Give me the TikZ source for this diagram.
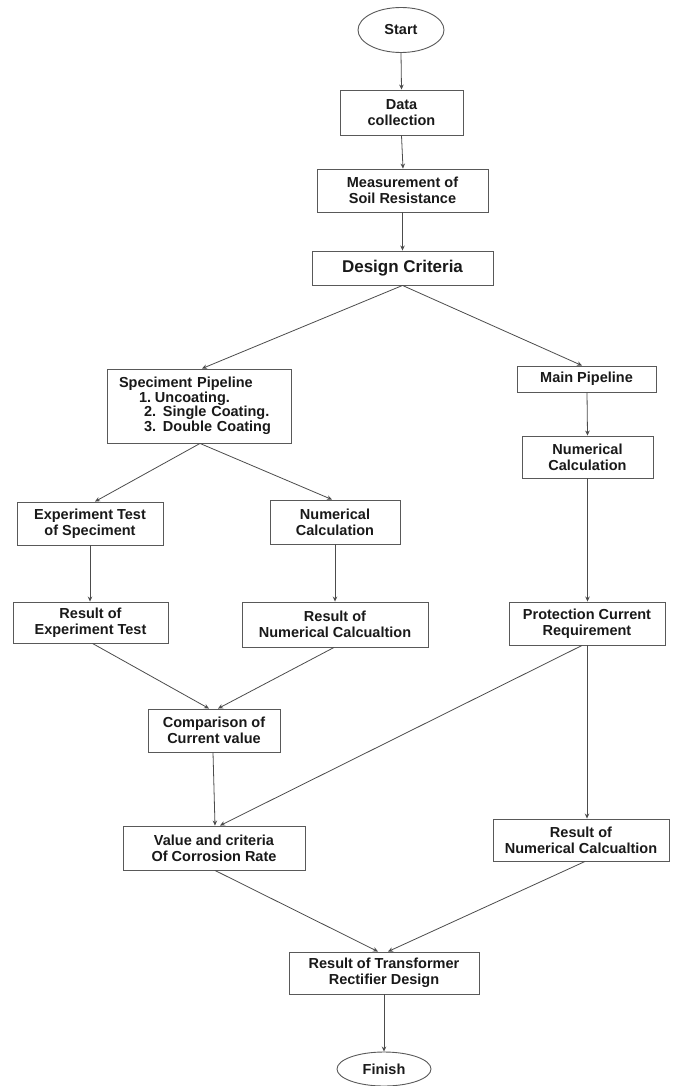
\documentclass[tikz,border=0pt]{standalone}
\usepackage{fontspec}
\setmainfont{Liberation Sans}
\usetikzlibrary{arrows.meta,shapes.geometric}
\begin{document}
\begin{tikzpicture}[x=1pt,y=-1pt,
  box/.style={draw=black!65, line width=0.9pt, rectangle, align=center, inner sep=2pt,
    text=black!90, font=\fontsize{14.5pt}{16pt}\selectfont\bfseries},
  oval/.style={draw=black!65, line width=0.9pt, ellipse, inner sep=0pt,
    text=black!90, font=\fontsize{14.5pt}{16pt}\selectfont\bfseries},
  conn/.style={draw=black!70, line width=0.8pt, -{Stealth[length=5pt,width=4.5pt]}},
]
\useasboundingbox (0,0) rectangle (672,1086);
\fill[white] (0,0) rectangle (672,1086);

\node[oval, minimum width=86pt, minimum height=45pt] (start) at (401,30) {Start};
\node[box, minimum width=123pt, minimum height=45pt] (data) at (401.5,112.5) {Data\\collection};
\node[box, minimum width=171pt, minimum height=43pt] (meas) at (402.5,190.5) {Measurement of\\Soil Resistance};
\node[box, minimum width=181pt, minimum height=34pt, font=\fontsize{17pt}{19pt}\selectfont\bfseries] (design) at (402.5,268) {Design Criteria};
\node[box, minimum width=184pt, minimum height=74pt, align=left, text width=160pt, inner sep=0pt,
  font=\fontsize{14.5pt}{14.5pt}\selectfont\bfseries] (spec) at (199,406)
  {Speciment Pipeline\\
   \hspace*{20pt}\makebox[16pt][l]{1.}Uncoating.\\
   \hspace*{25pt}\makebox[19pt][l]{2.}Single Coating.\\
   \hspace*{25pt}\makebox[19pt][l]{3.}Double Coating};
\node[box, minimum width=139pt, minimum height=26pt] (main) at (586.5,379) {Main Pipeline};
\node[box, minimum width=131pt, minimum height=42pt] (numR) at (587.5,457) {Numerical\\Calculation};
\node[box, minimum width=146pt, minimum height=43pt] (exp) at (90,523.5) {Experiment Test\\of Speciment};
\node[box, minimum width=130pt, minimum height=44pt] (numM) at (335,522) {Numerical\\Calculation};
\node[box, minimum width=155pt, minimum height=41pt] (resExp) at (90.5,622.5) {Result of\\Experiment Test};
\node[box, minimum width=186pt, minimum height=45pt] (resNumM) at (335,624.5) {Result of\\Numerical Calcualtion};
\node[box, minimum width=156pt, minimum height=43pt] (prot) at (587,623.5) {Protection Current\\Requirement};
\node[box, minimum width=132pt, minimum height=43pt] (comp) at (214,730.5) {Comparison of\\Current value};
\node[box, minimum width=182pt, minimum height=44pt] (value) at (214,848) {Value and criteria\\Of Corrosion Rate};
\node[box, minimum width=176pt, minimum height=42pt] (resR) at (581,840) {Result of\\Numerical Calcualtion};
\node[box, minimum width=190pt, minimum height=42pt] (trans) at (384,973) {Result of Transformer\\Rectifier Design};
\node[oval, minimum width=94pt, minimum height=34pt] (finish) at (384,1069) {Finish};

\draw[conn] (start.south) -- (data.north);
\draw[conn] (data.south) -- ([xshift=0.5pt]meas.north);
\draw[conn] (meas.south) -- (design.north);
\draw[conn] (design.south) -- ([xshift=3pt]spec.north);
\draw[conn] (design.south) -- ([xshift=-4.5pt]main.north);
\draw[conn] ([xshift=0.5pt]main.south) -- (numR.north);
\draw[conn] (numR.south) -- ([xshift=0.5pt]prot.north);
\draw[conn] ([xshift=1pt]spec.south) -- ([xshift=5pt]exp.north);
\draw[conn] ([xshift=1pt]spec.south) -- ([xshift=-3pt]numM.north);
\draw[conn] (exp.south) -- ([xshift=-0.5pt]resExp.north);
\draw[conn] (numM.south) -- (resNumM.north);
\draw[conn] ([xshift=2pt]resExp.south) -- ([xshift=-5pt]comp.north);
\draw[conn] ([xshift=-1pt]resNumM.south) -- ([xshift=4pt]comp.north);
\draw[conn] ([xshift=-1pt]comp.south) -- ([xshift=1pt]value.north);
\draw[conn] ([xshift=-5pt]prot.south) -- ([xshift=6pt]value.north);
\draw[conn] (prot.south) -- ([xshift=6pt]resR.north);
\draw[conn] ([xshift=1pt]value.south) -- ([xshift=-6pt]trans.north);
\draw[conn] ([xshift=4pt]resR.south) -- ([xshift=4pt]trans.north);
\draw[conn] (trans.south) -- (finish.north);
\end{tikzpicture}
\end{document}
